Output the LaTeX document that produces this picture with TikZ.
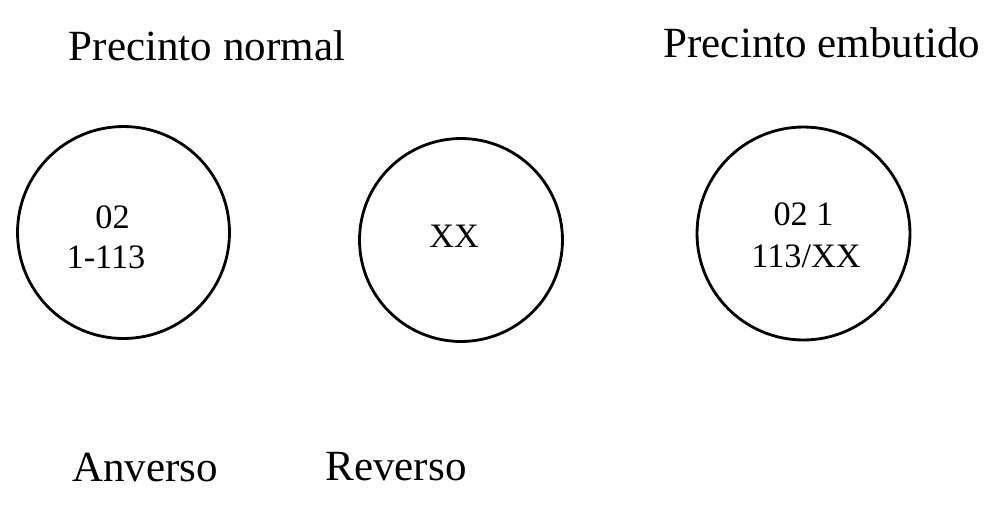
\documentclass[tikz,border=0pt]{standalone}
\usepackage{fontspec}
\setmainfont{Liberation Serif}
\tikzset{
	siegel/.style={circle, draw, line width=1.6pt, inner sep=0pt},
	titel/.style={anchor=base, font=\fontsize{24.5}{29}\selectfont},
	praegung/.style={anchor=base, font=\fontsize{19.5}{23}\selectfont},
}
\begin{document}
\begin{tikzpicture}[x=0.02cm, y=-0.02cm]
	\useasboundingbox (0,0) rectangle (1000,504);
	% Ueberschriften
	\node [titel] (normal) at (207,60) {Precinto normal};
	\node [titel] (embutido) at (822,57) {Precinto embutido};
	% Kreise
	\node [siegel, minimum size=4.24cm] (anverso) at (123.5,232.5) {};
	\node [siegel, minimum size=4.06cm] (reverso) at (461,240) {};
	\node [siegel, minimum size=4.26cm] (embutidokreis) at (803.5,233.5) {};
	% Praegung
	\node [praegung] (anversoA) at (112.5,228) {02};
	\node [praegung] (anversoB) at (106,268) {1-113};
	\node [praegung] (reversoA) at (454,247) {XX};
	\node [praegung] (embutidoA) at (803.5,225) {02 1};
	\node [praegung] (embutidoB) at (806,267) {113/XX};
	% Unterschriften
	\node [titel] (anversotext) at (145,481) {Anverso};
	\node [titel] (reversotext) at (396,480) {Reverso};
\end{tikzpicture}
\end{document}
